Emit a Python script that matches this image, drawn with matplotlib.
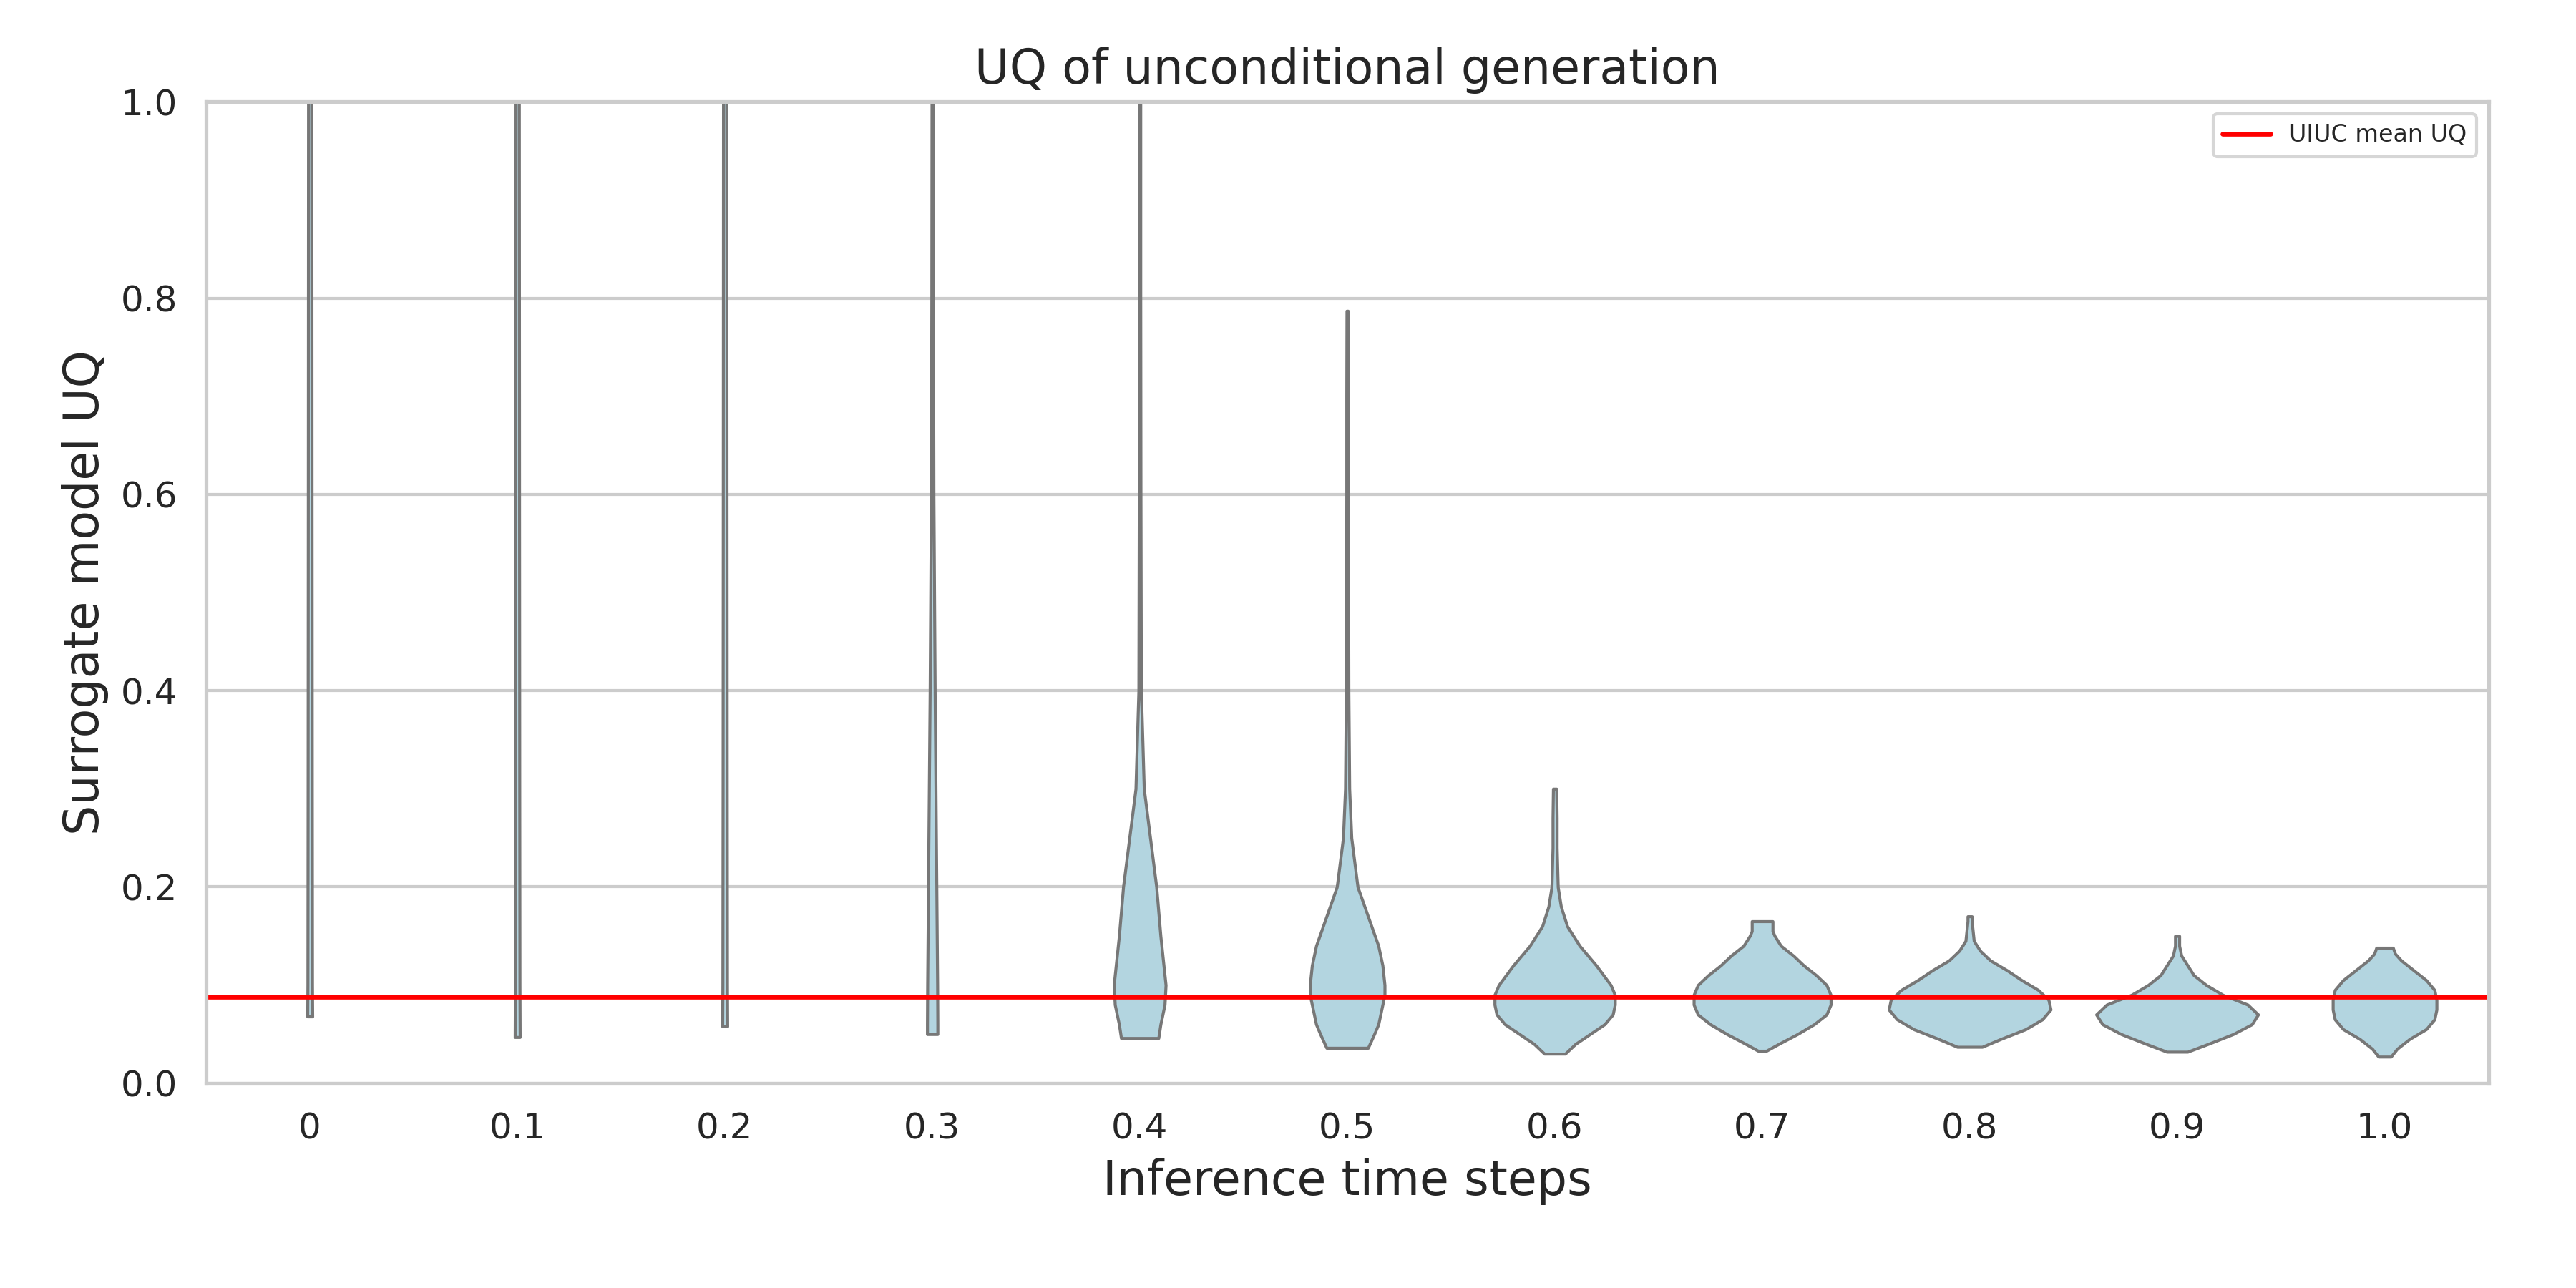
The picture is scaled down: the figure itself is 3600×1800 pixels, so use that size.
import matplotlib
matplotlib.use("Agg")
import matplotlib.pyplot as plt
import numpy as np
import seaborn as sns

sns.set_theme(style="whitegrid")

step_labels = ["0", "0.1", "0.2", "0.3", "0.4", "0.5", "0.6", "0.7", "0.8", "0.9", "1.0"]
mean_uq = 0.088

# density profiles: y values and half-widths (category units)
profile_y = [
    [0.068, 0.1, 0.3, 0.6, 1.0],
    [0.047, 0.1, 0.3, 0.6, 1.0],
    [0.058, 0.1, 0.3, 0.6, 1.0],
    [0.05, 0.06, 0.1, 0.2, 0.4, 0.6, 0.8, 1.0],
    [0.046, 0.06, 0.08, 0.1, 0.12, 0.15, 0.2, 0.25, 0.3, 0.4, 0.6, 0.8, 1.0],
    [0.036, 0.05, 0.06, 0.07, 0.08, 0.09, 0.10, 0.12, 0.14, 0.17, 0.2, 0.25, 0.3, 0.4, 0.5, 0.6, 0.7, 0.787],
    [0.03, 0.04, 0.05, 0.06, 0.07, 0.08, 0.09, 0.10, 0.12, 0.14, 0.16, 0.18, 0.2, 0.24, 0.27, 0.3],
    [0.033, 0.04, 0.05, 0.06, 0.07, 0.08, 0.09, 0.10, 0.11, 0.12, 0.13, 0.14, 0.15, 0.155, 0.165],
    [0.037, 0.045, 0.055, 0.065, 0.075, 0.085, 0.095, 0.105, 0.115, 0.125, 0.135, 0.145, 0.155, 0.165, 0.17],
    [0.032, 0.04, 0.05, 0.06, 0.07, 0.08, 0.09, 0.10, 0.11, 0.12, 0.13, 0.14, 0.15],
    [0.027, 0.035, 0.045, 0.055, 0.065, 0.075, 0.085, 0.095, 0.105, 0.115, 0.125, 0.132, 0.138],
]
profile_hw = [
    [0.012, 0.011, 0.01, 0.009, 0.008],
    [0.012, 0.011, 0.01, 0.009, 0.008],
    [0.012, 0.011, 0.01, 0.009, 0.008],
    [0.025, 0.025, 0.024, 0.02, 0.012, 0.006, 0.004, 0.003],
    [0.09, 0.1, 0.12, 0.125, 0.115, 0.1, 0.08, 0.05, 0.02, 0.006, 0.004, 0.003, 0.003],
    [0.1, 0.13, 0.15, 0.16, 0.17, 0.18, 0.18, 0.17, 0.15, 0.1, 0.05, 0.02, 0.01, 0.006, 0.005, 0.004, 0.004, 0.003],
    [0.05, 0.1, 0.17, 0.24, 0.28, 0.29, 0.29, 0.27, 0.2, 0.12, 0.06, 0.03, 0.015, 0.01, 0.01, 0.008],
    [0.02, 0.08, 0.17, 0.25, 0.31, 0.33, 0.33, 0.31, 0.26, 0.2, 0.15, 0.09, 0.06, 0.05, 0.05],
    [0.06, 0.15, 0.27, 0.35, 0.39, 0.38, 0.33, 0.25, 0.18, 0.1, 0.05, 0.02, 0.015, 0.01, 0.01],
    [0.05, 0.15, 0.27, 0.36, 0.39, 0.34, 0.22, 0.14, 0.08, 0.05, 0.02, 0.01, 0.01],
    [0.03, 0.06, 0.12, 0.2, 0.24, 0.25, 0.25, 0.24, 0.2, 0.14, 0.08, 0.05, 0.04],
]

stats = []
widths = []
for ys, hw in zip(profile_y, profile_hw):
    ys = np.array(ys)
    hw = np.array(hw)
    stats.append({"coords": ys, "vals": hw, "mean": ys.mean(), "median": np.median(ys),
                  "min": ys.min(), "max": ys.max()})
    widths.append(2 * hw.max())

fig, ax = plt.subplots(figsize=(12, 6), dpi=300)
parts = ax.violin(stats, positions=range(len(step_labels)), widths=widths,
                  showmeans=False, showextrema=False, showmedians=False)
for body in parts["bodies"]:
    body.set_facecolor("#b3d5e0")
    body.set_edgecolor("#777777")
    body.set_linewidth(1.0)
    body.set_alpha(1)

ax.axhline(mean_uq, color="red", lw=1.6, label="UIUC mean UQ")
ax.set_xticks(range(len(step_labels)))
ax.set_xticklabels(step_labels, fontsize=12)
ax.tick_params(axis="y", labelsize=12)
ax.set_xlim(-0.5, len(step_labels) - 0.5)
ax.set_ylim(0, 1)
ax.xaxis.grid(False)
ax.set_title("UQ of unconditional generation", fontsize=16)
ax.set_xlabel("Inference time steps", fontsize=16)
ax.set_ylabel("Surrogate model UQ", fontsize=16)
ax.legend(loc="upper right", fontsize=8)

fig.subplots_adjust(left=0.08, right=0.966, top=0.921, bottom=0.159)
fig.savefig("out.png", dpi=300)
